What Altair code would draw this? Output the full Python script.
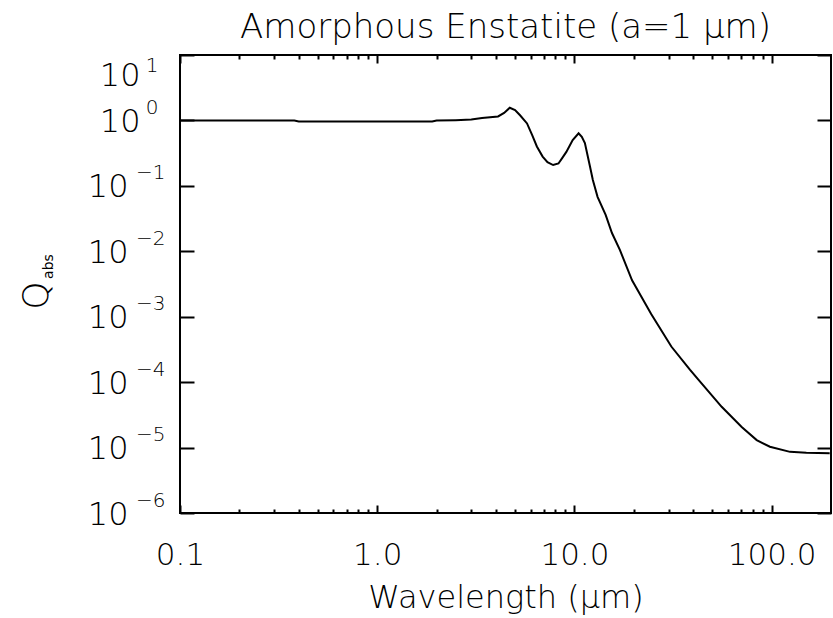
import altair as alt
import pandas as pd

# ---- data ----
wavelength = [0.10, 0.20, 0.38, 0.40, 1.0, 1.9, 2.0, 2.5, 3.0, 3.4, 4.1, 4.4, 4.7,
              5.0, 5.3, 5.75, 6.1, 6.45, 6.9, 7.3, 7.8, 8.3, 8.7, 9.1, 9.8, 10.5,
              10.9, 11.3, 12.0, 12.4, 13.1, 14.4, 15.5, 17.0, 19.6, 24.5, 31.0,
              38.5, 42.4, 55.8, 70.5, 84.0, 98.0, 124.0, 150.0, 197.0]
q_abs = [1.00, 1.00, 1.00, 0.965, 0.96, 0.96, 1.00, 1.01, 1.03, 1.09, 1.15, 1.30, 1.56,
         1.44, 1.20, 0.90, 0.60, 0.40, 0.28, 0.23, 0.208, 0.22, 0.27, 0.33, 0.50, 0.635,
         0.56, 0.45, 0.196, 0.123, 0.068, 0.036, 0.019, 0.0105, 0.0036, 0.0011, 0.00035,
         0.000155, 0.00011, 0.000042, 0.0000207, 0.000013, 0.0000103, 0.0000086,
         0.0000083, 0.0000082]

x_major = [0.1, 1, 10, 100]
x_major_labels = ["0.1", "1.0", "10.0", "100.0"]
x_minor = [0.2, 0.3, 0.4, 0.5, 0.6, 0.7, 0.8, 0.9,
           2, 3, 4, 5, 6, 7, 8, 9,
           20, 30, 40, 50, 60, 70, 80, 90]
y_major = [10, 1, 0.1, 0.01, 0.001, 0.0001, 0.00001, 0.000001]
y_base_label = "10"
y_exponents = ["−6", "−5", "−4", "−3", "−2", "−1", "0", "1"]

chart_title = "Amorphous Enstatite (a=1 μm)"
x_title = "Wavelength (μm)"
y_title = "Q"
y_title_sub = "abs"

df = pd.DataFrame({"wavelength": wavelength, "q": q_abs})

FONT = "DejaVu Sans"
xscale = alt.Scale(type="log", domain=[0.1, 200], nice=False)
yscale = alt.Scale(type="log", domain=[1e-6, 10], nice=False)


def ax(**kw):
    base = dict(grid=False, domain=False, tickColor="black", tickWidth=2,
                labelFont=FONT, titleFont=FONT, labelColor="black",
                titleColor="black", labelOverlap=False, labelFlush=False,
                titleFontWeight=200, labelFontWeight=200)
    base.update(kw)
    return alt.Axis(**base)


xlabel_expr = "[" + ",".join("'%s'" % s for s in x_major_labels) + "][round(log(datum.value)/LN10)+1]"
yexp_expr = "[" + ",".join("'%s'" % s for s in y_exponents) + "][round(log(datum.value)/LN10)+6]"

base = alt.Chart(df)

main = base.mark_line(color="black", strokeWidth=2, clip=True).encode(
    x=alt.X("wavelength:Q", scale=xscale,
            axis=ax(orient="bottom", values=x_major, tickSize={"expr": "-8"},
                    labelExpr=xlabel_expr, labelFontSize=31, labelPadding=35,
                    title=x_title, titleFontSize=32, titlePadding=12)),
    y=alt.Y("q:Q", scale=yscale,
            axis=ax(orient="left", values=y_major, tickSize={"expr": "-14"},
                    labelExpr="'%s'" % y_base_label, labelFontSize=32,
                    labelPadding={"condition": {"test": "datum.value >= 1", "value": 54},
                                  "value": 66},
                    labelBaseline={"condition": {"test": "datum.value >= 10", "value": "top"},
                                   "value": "middle"},
                    labelOffset={"condition": {"test": "datum.value >= 10", "value": 5},
                                 "value": 1},
                    title=y_title, titleFontSize=36, titleX=-133, titleY=240,
                    titleAngle=270, titleBaseline="alphabetic", titleAlign="center")),
)

minor_bottom = base.mark_line(strokeOpacity=0).encode(
    x=alt.X("wavelength:Q", scale=xscale,
            axis=ax(orient="bottom", values=x_minor, tickSize={"expr": "-4"},
                    labels=False, title=None)),
    y=alt.Y("q:Q", scale=yscale,
            axis=ax(orient="right", values=y_major, tickSize={"expr": "-14"},
                    labels=False, title=None)),
)

major_top = base.mark_line(strokeOpacity=0).encode(
    x=alt.X("wavelength:Q", scale=xscale,
            axis=ax(orient="top", values=x_major, tickSize={"expr": "-8"},
                    labels=False, title=None)),
    y=alt.Y("q:Q", scale=yscale,
            axis=ax(orient="left", ticks=False, labels=False,
                    title=y_title_sub, titleFontSize=14, titleFontWeight="normal",
                    titleX=-128, titleY=211,
                    titleAngle=270, titleBaseline="alphabetic", titleAlign="center")),
)

minor_top = base.mark_line(strokeOpacity=0).encode(
    x=alt.X("wavelength:Q", scale=xscale,
            axis=ax(orient="top", values=x_minor, tickSize={"expr": "-4"},
                    labels=False, title=None)),
    y=alt.Y("q:Q", scale=yscale,
            axis=ax(orient="left", values=y_major, ticks=False, tickSize={"expr": "0"},
                    labelExpr=yexp_expr, labelFontSize=20,
                    labelPadding={"condition": {"test": "datum.value >= 1", "value": 22},
                                  "value": 15},
                    labelBaseline={"condition": {"test": "datum.value >= 10", "value": "top"},
                                   "value": "middle"},
                    labelOffset={"condition": {"test": "datum.value >= 10", "value": 0},
                                 "value": -13},
                    title=None)),
)

chart = alt.layer(main, minor_bottom, major_top, minor_top).resolve_axis(
    x="independent", y="independent"
).properties(
    width=651,
    height=458,
    title=alt.TitleParams(chart_title, font=FONT, fontSize=34, fontWeight=200,
                          color="black", anchor="middle", baseline="alphabetic",
                          offset=19, dy=37),
    autosize=alt.AutoSizeParams(type="none"),
    padding={"left": 180, "top": 55, "right": 2, "bottom": 105},
    background="white",
).configure_view(stroke="black", strokeWidth=2)

chart.save("out.html", embed_options={"renderer": "svg", "actions": False})
